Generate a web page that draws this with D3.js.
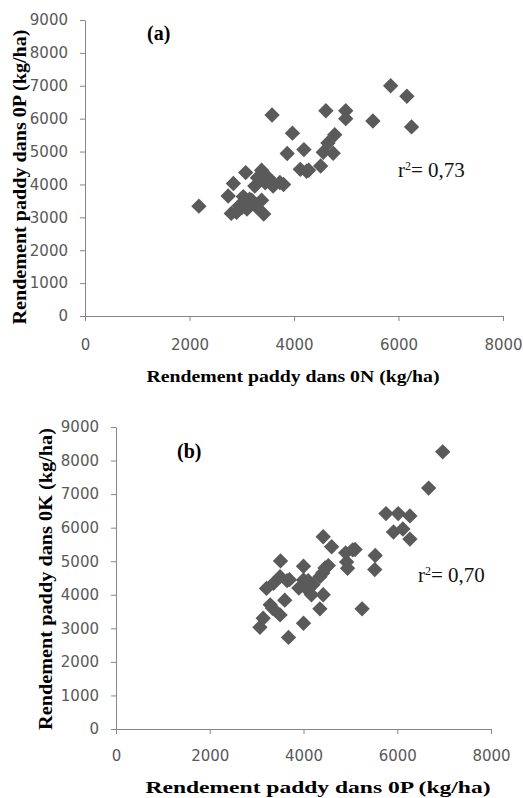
<!DOCTYPE html>
<html>
<head>
<meta charset="utf-8">
<script src="https://cdn.jsdelivr.net/npm/d3@7"></script>
<style>
  body { margin: 0; background: #fff; }
  svg { display: block; }
</style>
</head>
<body>
<div id="chart"></div>
<script>
// Data
// (a) yield in 0N (x) vs yield in 0P (y), kg/ha
const aX = [2180, 2740, 2840, 2800, 2900, 3000, 3030, 3050, 3075, 3100, 3150, 3190, 3250, 3280, 3300,
            3380, 3380, 3420, 3450, 3510, 3580, 3620, 3730, 3800, 3870, 3970, 4120, 4190, 4240, 4280,
            4510, 4560, 4610, 4650, 4750, 4780, 4990, 4990, 5510, 5850, 6160, 6250, 3150, 2950, 3600];
const aY = [3340, 3650, 4030, 3120, 3150, 3300, 3630, 3450, 4360, 3250, 3550, 3520, 3950, 3320, 4200,
            3520, 4430, 3100, 4050, 4200, 6110, 4000, 4060, 4000, 4940, 5560, 4460, 5060, 4400, 4430,
            4560, 4980, 6240, 5260, 4950, 5510, 6240, 6000, 5930, 7000, 6680, 5750, 3350, 3350, 3950];

// (b) yield in 0P (x) vs yield in 0K (y), kg/ha
const bX = [3070, 3140, 3290, 3340, 3360, 3210, 3500, 3500, 3510, 3600, 3650, 3680, 3700, 4000, 4000,
            4000, 4050, 4100, 4170, 4350, 4420, 4350, 4420, 4460, 4530, 4600, 4410, 4920, 4940, 4900,
            5050, 5100, 5250, 5530, 5520, 5760, 6020, 6270, 5920, 6120, 6270, 6670, 6970, 4200, 3900];
const bY = [3030, 3300, 3700, 3600, 4340, 4190, 3400, 4540, 5010, 3840, 4420, 2730, 4450, 3150, 4850,
            4440, 4200, 4420, 4000, 3580, 4000, 4540, 5730, 4800, 4870, 5430, 4650, 4980, 4790, 5250,
            5340, 5350, 3580, 5170, 4750, 6420, 6420, 6350, 5870, 5960, 5660, 7180, 8260, 4300, 4200];

const xTicks = [0, 2000, 4000, 6000, 8000];
const yTicks = [0, 1000, 2000, 3000, 4000, 5000, 6000, 7000, 8000, 9000];

const panels = [
  { xs: aX, ys: aY, tag: "(a)", r2: "0,73",
    xTitle: "Rendement paddy dans 0N (kg/ha)", yTitle: "Rendement paddy dans 0P (kg/ha)",
    left: 85, right: 503, top: 20, bottom: 316, xPad: 18,
    tagPos: [147, 40], r2Pos: [398, 177],
    xTitlePos: [293, 382, 293], yTitlePos: [26, 177, 295] },
  { xs: bX, ys: bY, tag: "(b)", r2: "0,70",
    xTitle: "Rendement paddy dans 0P (kg/ha)", yTitle: "Rendement paddy dans 0K (kg/ha)",
    left: 116, right: 491, top: 427, bottom: 729, xPad: 16,
    tagPos: [177, 458], r2Pos: [418, 582],
    xTitlePos: [318, 793, 345], yTitlePos: [52, 579, 302] }
];

const width = 523;
const height = 798;

const svg = d3.select("#chart")
    .append("svg")
    .attr("width", width)
    .attr("height", height);

const serif = "'Liberation Serif', 'Times New Roman', serif";

panels.forEach(p => {
  const g = svg.append("g");

  const x = d3.scaleLinear().domain([0, 8000]).range([p.left, p.right]);
  const y = d3.scaleLinear().domain([0, 9000]).range([p.bottom, p.top]);

  // axes, plain integer labels (no thousands separator)
  const xAxis = g.append("g")
      .attr("transform", `translate(0,${p.bottom})`)
      .call(d3.axisBottom(x).tickValues(xTicks).tickFormat(d3.format("d"))
        .tickSize(5).tickPadding(p.xPad).tickSizeOuter(0));
  const yAxis = g.append("g")
      .attr("transform", `translate(${p.left},0)`)
      .call(d3.axisLeft(y).tickValues(yTicks).tickFormat(d3.format("d"))
        .tickSize(5).tickPadding(12).tickSizeOuter(0));

  [xAxis, yAxis].forEach(ax => {
    ax.select(".domain").attr("stroke", "#868686");
    ax.selectAll(".tick line").attr("stroke", "#868686");
    ax.selectAll(".tick text")
      .attr("fill", "#595959")
      .style("font-family", "'DejaVu Sans', Verdana, sans-serif")
      .style("font-size", "15px");
  });

  // diamonds
  const diamond = d3.symbol().type(d3.symbolSquare).size(118);
  g.selectAll("path.pt")
    .data(p.xs.map((v, i) => [v, p.ys[i]]))
    .join("path")
      .attr("class", "pt")
      .attr("d", diamond)
      .attr("transform", d => `translate(${x(d[0])},${y(d[1])}) rotate(45)`)
      .attr("fill", "#5a5a5a");

  // panel tag
  g.append("text")
    .attr("x", p.tagPos[0]).attr("y", p.tagPos[1])
    .style("font-family", serif).style("font-weight", "bold").style("font-size", "20px")
    .text(p.tag);

  // r squared
  const r = g.append("text")
    .attr("x", p.r2Pos[0]).attr("y", p.r2Pos[1])
    .style("font-family", serif).style("font-size", "21px")
    .attr("fill", "#111");
  r.append("tspan").text("r");
  r.append("tspan").attr("dy", -7).style("font-size", "12px").text("2");
  r.append("tspan").attr("dy", 7).text("= " + p.r2);

  // axis titles
  g.append("text")
    .attr("x", p.xTitlePos[0]).attr("y", p.xTitlePos[1])
    .attr("text-anchor", "middle")
    .attr("textLength", p.xTitlePos[2]).attr("lengthAdjust", "spacingAndGlyphs")
    .style("font-family", serif).style("font-weight", "bold").style("font-size", "17px")
    .text(p.xTitle);

  g.append("text")
    .attr("transform", `translate(${p.yTitlePos[0]},${p.yTitlePos[1]}) rotate(-90)`)
    .attr("text-anchor", "middle")
    .attr("textLength", p.yTitlePos[2]).attr("lengthAdjust", "spacingAndGlyphs")
    .style("font-family", serif).style("font-weight", "bold").style("font-size", "18px")
    .text(p.yTitle);
});
</script>
</body>
</html>
